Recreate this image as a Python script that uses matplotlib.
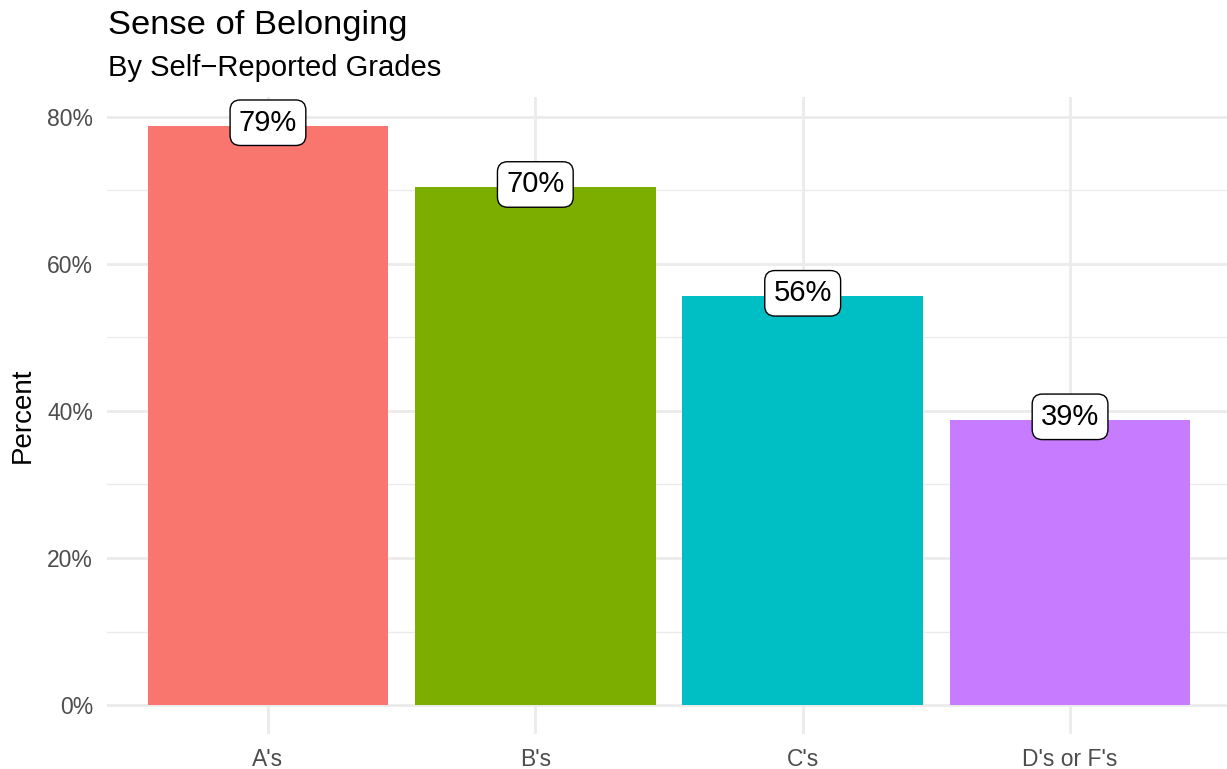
import numpy as np
import matplotlib
matplotlib.use("Agg")
import matplotlib.pyplot as plt
from matplotlib.ticker import FixedLocator, FuncFormatter

# === 数据 ===
grades = ["A's", "B's", "C's", "D's or F's"]
percent = [0.788, 0.704, 0.556, 0.388]
labels = ["79%", "70%", "56%", "39%"]
colors = ["#F8766D", "#7CAE00", "#00BFC4", "#C77CFF"]

plt.rcParams.update({
    'font.family': 'Liberation Sans',
    'axes.linewidth': 0,
})

W, H = 1227, 769
fig = plt.figure(figsize=(W / 100, H / 100), dpi=100)
# 面板像素位置: 左 107, 右 1227, 上 97, 下 734
ax = fig.add_axes([107 / W, (H - 734) / H, (1227 - 107) / W, (734 - 97) / H])

x = np.arange(1, len(grades) + 1)
ax.bar(x, percent, width=0.9, color=colors, zorder=2)

for xi, v, lab in zip(x, percent, labels):
    ax.text(xi, v + 0.004, lab, ha='center', va='center', fontsize=21, color='black', zorder=4,
            bbox=dict(boxstyle='round,pad=0.3,rounding_size=0.35', fc='white', ec='black', lw=1.0))

ax.set_xlim(0.398, 4.587)
ax.set_ylim(-0.0394, 0.827)

# 网格 (theme_minimal)
ax.yaxis.set_major_locator(FixedLocator([0, 0.2, 0.4, 0.6, 0.8]))
ax.yaxis.set_minor_locator(FixedLocator([0.1, 0.3, 0.5, 0.7]))
ax.yaxis.set_major_formatter(FuncFormatter(lambda v, p: f"{v*100:.0f}%"))
ax.set_xticks(x)
ax.set_xticklabels(grades)
ax.grid(True, which='major', color='#EBEBEB', lw=2.0, zorder=0)
ax.grid(True, which='minor', axis='y', color='#EBEBEB', lw=1.0, zorder=0)
ax.set_axisbelow(True)
ax.tick_params(axis='both', which='both', length=0, labelsize=16.5, labelcolor='#4D4D4D')
ax.tick_params(axis='y', pad=10)
ax.tick_params(axis='x', pad=10)
for s in ax.spines.values():
    s.set_visible(False)

ax.set_ylabel("Percent", fontsize=20, color='black', labelpad=8)

fig.text(108 / W, 1 - 34 / H, "Sense of Belonging", fontsize=24.8, ha='left', va='baseline')
fig.text(108 / W, 1 - 76 / H, "By Self\u2212Reported Grades", fontsize=21, ha='left', va='baseline')

fig.savefig("out.png", dpi=100)
